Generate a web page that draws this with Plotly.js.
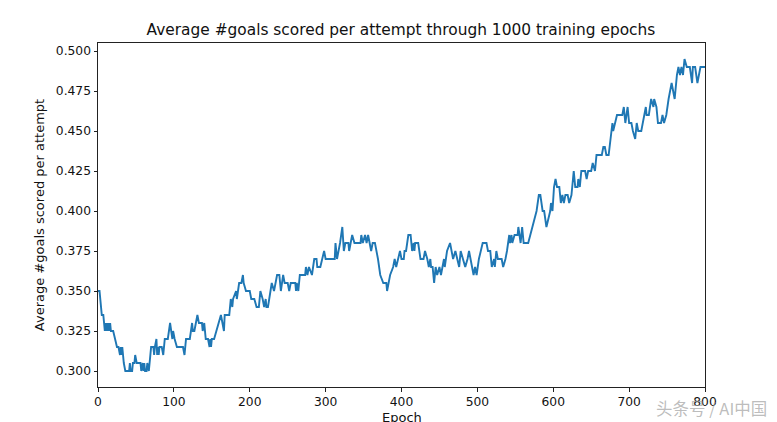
<!DOCTYPE html>
<html>
<head>
<meta charset="utf-8">
<script src="https://cdn.plot.ly/plotly-3.0.1.min.js"></script>
<style>html,body{margin:0;padding:0;background:#fff}#c{width:777px;height:422px;overflow:hidden}</style>
</head>
<body>
<div id="c"></div>
<script>
const epochs = [0,2,5,7,8,9,10,11,12,13,14,15,16,17,20,23,25,27,29,30,31,32,34,36,41,42,43,45,46,48,49,51,56,57,59,60,61,62,64,65,67,68,70,73,74,75,77,78,79,80,81,82,84,86,88,92,95,98,99,101,104,112,114,116,121,124,125,127,131,133,137,138,140,142,145,147,148,149,150,153,156,159,162,164,166,167,173,175,177,178,182,183,186,189,191,192,195,200,202,206,209,212,214,217,219,221,222,224,227,229,232,236,239,241,244,246,250,252,254,260,261,262,264,266,273,274,276,278,282,285,288,289,293,295,298,300,312,313,315,319,322,324,326,330,331,333,335,338,346,347,349,352,354,356,360,362,365,369,372,376,380,381,385,389,391,393,396,398,400,403,404,406,409,412,414,416,417,418,422,425,429,431,434,436,438,439,441,443,445,447,450,452,454,456,457,460,464,466,468,471,474,476,478,481,484,487,489,493,495,497,499,502,504,507,512,514,517,519,522,523,525,527,532,534,537,539,542,543,545,546,549,553,554,557,559,561,567,570,573,575,578,581,583,586,588,591,593,596,597,599,601,603,605,608,610,612,614,616,619,621,624,627,629,632,633,635,637,642,644,646,650,652,655,657,664,666,668,670,673,676,678,679,681,684,691,693,695,698,700,703,705,708,710,712,716,718,722,723,726,729,732,733,736,738,742,744,746,749,752,756,758,760,763,765,767,769,771,773,776,780,783,784,787,790,792,794,800];
const goals = [.35,.35,.335,.335,.33,.325,.33,.325,.33,.325,.33,.325,.33,.325,.325,.32,.315,.315,.31,.315,.31,.315,.305,.3,.3,.305,.3,.3,.305,.305,.31,.305,.305,.3,.305,.3,.305,.3,.3,.305,.3,.305,.315,.315,.31,.315,.32,.31,.315,.31,.315,.315,.315,.31,.32,.32,.33,.32,.325,.32,.315,.315,.31,.32,.32,.33,.325,.325,.335,.33,.33,.325,.33,.32,.32,.315,.32,.315,.32,.32,.325,.33,.335,.33,.325,.335,.335,.345,.34,.345,.35,.345,.355,.355,.36,.355,.35,.35,.345,.345,.34,.34,.35,.345,.34,.345,.34,.34,.35,.355,.35,.36,.36,.35,.36,.355,.355,.35,.355,.355,.35,.355,.35,.36,.36,.365,.36,.365,.36,.37,.37,.365,.365,.37,.375,.37,.37,.38,.37,.38,.39,.375,.38,.38,.375,.38,.385,.38,.38,.385,.38,.385,.38,.385,.375,.38,.38,.37,.36,.355,.355,.35,.36,.365,.37,.365,.37,.375,.37,.37,.375,.375,.385,.385,.375,.38,.375,.38,.38,.37,.37,.375,.37,.365,.37,.365,.365,.355,.365,.36,.365,.36,.365,.37,.365,.375,.38,.375,.37,.375,.37,.365,.375,.37,.365,.37,.375,.365,.36,.365,.36,.37,.375,.38,.38,.375,.375,.365,.37,.365,.375,.37,.37,.365,.37,.375,.385,.38,.385,.38,.385,.385,.39,.38,.39,.38,.38,.385,.39,.395,.4,.41,.41,.4,.4,.39,.395,.4,.405,.4,.415,.42,.415,.415,.405,.41,.405,.41,.41,.405,.41,.425,.415,.415,.42,.415,.425,.425,.42,.425,.425,.43,.425,.435,.435,.44,.44,.435,.435,.45,.455,.45,.455,.46,.46,.465,.455,.465,.455,.455,.45,.445,.455,.45,.45,.455,.465,.46,.46,.47,.465,.47,.465,.455,.455,.46,.455,.46,.47,.48,.475,.47,.485,.49,.485,.49,.485,.495,.49,.49,.48,.49,.49,.48,.485,.49,.49];
const xTicks = [0,100,200,300,400,500,600,700,800];
const yTicks = [0.300,0.325,0.350,0.375,0.400,0.425,0.450,0.475,0.500];
const yLabels = ["0.300","0.325","0.350","0.375","0.400","0.425","0.450","0.475","0.500"];
const font = "DejaVu Sans, sans-serif";
const axisBase = {showgrid:false,zeroline:false,showline:true,mirror:true,linecolor:"#222",linewidth:1,automargin:false,
  ticks:"outside",ticklen:3.5,tickwidth:1,tickcolor:"#222",tickfont:{family:font,size:12.3,color:"#111"}};
Plotly.newPlot("c",[{x:epochs,y:goals,type:"scatter",mode:"lines",line:{color:"#1f77b4",width:1.9},hoverinfo:"skip"}],{
  width:777,height:422,paper_bgcolor:"#fff",plot_bgcolor:"#fff",showlegend:false,
  margin:{l:98,r:72,t:43,b:35},
  title:{text:"Average #goals scored per attempt through 1000 training epochs",font:{family:font,size:15.4,color:"#111"},x:0.516,xanchor:"center",y:0.929,yanchor:"middle"},
  xaxis:Object.assign({},axisBase,{range:[0,800],tickvals:xTicks,ticktext:xTicks.map(String)}),
  yaxis:Object.assign({},axisBase,{range:[0.29,0.505],tickvals:yTicks,ticktext:yLabels,
    title:{text:"Average #goals scored per attempt",font:{family:font,size:13,color:"#111"},standoff:8}}),
  annotations:[
    {text:"Epoch",xref:"paper",yref:"paper",x:0.5,y:-0.09,xanchor:"center",yanchor:"middle",showarrow:false,
     font:{family:font,size:13,color:"#111"}},
    {text:"头条号 / AI中国",xref:"paper",yref:"paper",x:1.105,y:-0.06,xanchor:"right",yanchor:"middle",showarrow:false,
     font:{family:"Noto Sans CJK SC, sans-serif",size:16.5,color:"rgba(160,160,160,0.7)"}}]
},{displayModeBar:false,staticPlot:true});
</script>
</body>
</html>
